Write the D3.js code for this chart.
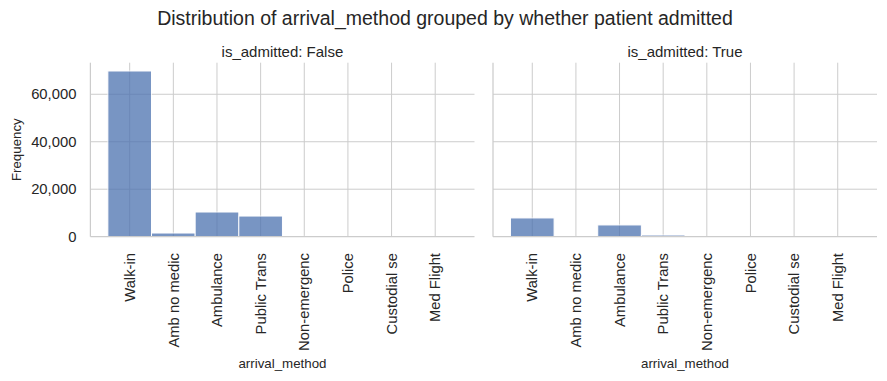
<!DOCTYPE html>
<html>
<head>
<meta charset="utf-8">
<script src="https://cdn.jsdelivr.net/npm/d3@7"></script>
<style>
    body { margin: 0; background: #fff; }
    svg text { font-family: "Liberation Sans", Arial, sans-serif; fill: #262626; }
    .grid line { stroke: #cccccc; stroke-width: 1; }
    .spine { stroke: #cccccc; stroke-width: 1.25; }
</style>
</head>
<body>
<div id="chart"></div>
<script>
const categories = ["Walk-in", "Amb no medic", "Ambulance", "Public Trans",
    "Non-emergenc", "Police", "Custodial se", "Med Flight"];
const countsNotAdmitted = [69800, 1550, 10400, 8700, 150, 60, 30, 10];
const countsAdmitted = [7900, 120, 4950, 700, 40, 50, 20, 15];
const yTicks = [0, 20000, 40000, 60000];
const panelTitles = ["is_admitted: False", "is_admitted: True"];

const W = 887, H = 381;
const plotTop = 62.7, plotBottom = 236.7;
const panels = [
    { title: panelTitles[0], values: countsNotAdmitted, x0: 90.4, x1: 474.5, yLabels: true },
    { title: panelTitles[1], values: countsAdmitted, x0: 493, x1: 877, yLabels: false }
];

const svg = d3.select("#chart")
    .append("svg")
    .attr("width", W)
    .attr("height", H);

const yMax = d3.max(countsNotAdmitted.concat(countsAdmitted)) * 1.05;
const y = d3.scaleLinear()
    .domain([0, yMax])
    .range([plotBottom, plotTop]);

svg.append("text")
    .attr("x", 445)
    .attr("y", 25)
    .attr("text-anchor", "middle")
    .style("font-size", "19.5px")
    .text("Distribution of arrival_method grouped by whether patient admitted");

svg.append("text")
    .attr("transform", "translate(21," + ((plotTop + plotBottom) / 2) + ") rotate(-90)")
    .attr("text-anchor", "middle")
    .style("font-size", "13.3px")
    .text("Frequency");

panels.forEach(p => {
    // seaborn discrete bins: -0.5..n-0.5 plus 5% margins
    const x = d3.scaleLinear()
        .domain([-0.9, categories.length - 0.1])
        .range([p.x0, p.x1]);

    const g = svg.append("g");

    // grid
    const grid = g.append("g").attr("class", "grid");
    grid.selectAll(".hgrid")
        .data(yTicks.filter(d => d > 0))
        .enter()
        .append("line")
        .attr("x1", p.x0).attr("x2", p.x1)
        .attr("y1", d => y(d)).attr("y2", d => y(d));
    grid.selectAll(".vgrid")
        .data(categories)
        .enter()
        .append("line")
        .attr("x1", (d, i) => x(i)).attr("x2", (d, i) => x(i))
        .attr("y1", plotTop).attr("y2", plotBottom);

    // bars
    g.selectAll(".bar")
        .data(p.values)
        .enter()
        .append("rect")
        .attr("class", "bar")
        .attr("x", (d, i) => x(i - 0.5))
        .attr("width", (d, i) => x(i + 0.5) - x(i - 0.5))
        .attr("y", d => y(d))
        .attr("height", d => plotBottom - y(d))
        .attr("fill", "#4c72b0")
        .attr("stroke", "#ffffff")
        .attr("stroke-width", 1)
        .attr("opacity", 0.75);

    // spines
    g.append("line").attr("class", "spine")
        .attr("x1", p.x0).attr("x2", p.x0)
        .attr("y1", plotTop).attr("y2", plotBottom);
    g.append("line").attr("class", "spine")
        .attr("x1", p.x0).attr("x2", p.x1)
        .attr("y1", plotBottom).attr("y2", plotBottom);

    // y tick labels
    if (p.yLabels) {
        g.selectAll(".ytick")
            .data(yTicks)
            .enter()
            .append("text")
            .attr("x", p.x0 - 14)
            .attr("y", d => y(d))
            .attr("dy", "0.35em")
            .attr("text-anchor", "end")
            .style("font-size", "14.8px")
            .text(d3.format(","));
    }

    // x tick labels
    g.selectAll(".xtick")
        .data(categories)
        .enter()
        .append("text")
        .attr("transform", (d, i) => "translate(" + x(i) + ",253) rotate(-90)")
        .attr("dy", "0.35em")
        .attr("text-anchor", "end")
        .style("font-size", "14.8px")
        .text(d => d);

    g.append("text")
        .attr("x", (p.x0 + p.x1) / 2)
        .attr("y", 368)
        .attr("text-anchor", "middle")
        .style("font-size", "13.3px")
        .text("arrival_method");

    g.append("text")
        .attr("x", (p.x0 + p.x1) / 2)
        .attr("y", 57)
        .attr("text-anchor", "middle")
        .style("font-size", "15px")
        .text(p.title);
});
</script>
</body>
</html>
